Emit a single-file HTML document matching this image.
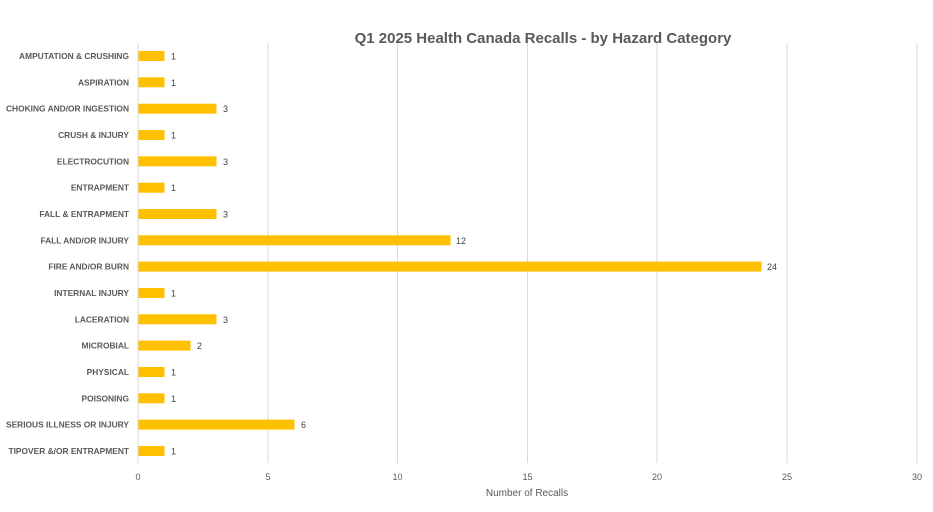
<!DOCTYPE html>
<html><head><style>body{margin:0;background:#fff}svg{display:block}</style></head><body>
<svg width="933" height="512" xmlns="http://www.w3.org/2000/svg" font-family="Liberation Sans, sans-serif">
<rect width="933" height="512" fill="#fff"/>
<text x="543" y="43" text-anchor="middle" font-size="15" font-weight="bold" fill="#595959">Q1 2025 Health Canada Recalls - by Hazard Category</text>
<g stroke="#d9d9d9" stroke-width="1">
<line x1="138" y1="43" x2="138" y2="463"/>
<line x1="268" y1="43" x2="268" y2="463"/>
<line x1="397.5" y1="43" x2="397.5" y2="463"/>
<line x1="527.5" y1="43" x2="527.5" y2="463"/>
<line x1="657" y1="43" x2="657" y2="463"/>
<line x1="787" y1="43" x2="787" y2="463"/>
<line x1="917" y1="43" x2="917" y2="463"/>
</g>
<g font-size="9" fill="#595959" text-anchor="middle">
<text x="138" y="480">0</text><text x="268" y="480">5</text><text x="397.5" y="480">10</text><text x="527.5" y="480">15</text><text x="657" y="480">20</text><text x="787" y="480">25</text><text x="917" y="480">30</text>
<text x="527" y="496" font-size="10">Number of Recalls</text>
</g>
<g fill="#ffc000">
<rect x="138.5" y="51" width="26" height="10"/>
<rect x="138.5" y="77.3" width="26" height="10"/>
<rect x="138.5" y="103.7" width="78" height="10"/>
<rect x="138.5" y="130" width="26" height="10"/>
<rect x="138.5" y="156.3" width="78" height="10"/>
<rect x="138.5" y="182.7" width="26" height="10"/>
<rect x="138.5" y="209" width="78" height="10"/>
<rect x="138.5" y="235.3" width="312" height="10"/>
<rect x="138.5" y="261.6" width="623" height="10"/>
<rect x="138.5" y="288" width="26" height="10"/>
<rect x="138.5" y="314.3" width="78" height="10"/>
<rect x="138.5" y="340.6" width="52" height="10"/>
<rect x="138.5" y="367" width="26" height="10"/>
<rect x="138.5" y="393.3" width="26" height="10"/>
<rect x="138.5" y="419.6" width="156" height="10"/>
<rect x="138.5" y="446" width="26" height="10"/>
</g>
<g font-size="8.4" font-weight="bold" fill="#595959" text-anchor="end">
<text x="129" y="59">AMPUTATION &amp; CRUSHING</text>
<text x="129" y="85.3">ASPIRATION</text>
<text x="129" y="111.7">CHOKING AND/OR INGESTION</text>
<text x="129" y="138">CRUSH &amp; INJURY</text>
<text x="129" y="164.3">ELECTROCUTION</text>
<text x="129" y="190.7">ENTRAPMENT</text>
<text x="129" y="217">FALL &amp; ENTRAPMENT</text>
<text x="129" y="243.3">FALL AND/OR INJURY</text>
<text x="129" y="269.6">FIRE AND/OR BURN</text>
<text x="129" y="296">INTERNAL INJURY</text>
<text x="129" y="322.3">LACERATION</text>
<text x="129" y="348.6">MICROBIAL</text>
<text x="129" y="375">PHYSICAL</text>
<text x="129" y="401.3">POISONING</text>
<text x="129" y="427.6">SERIOUS ILLNESS OR INJURY</text>
<text x="129" y="454">TIPOVER &amp;/OR ENTRAPMENT</text>
</g>
<g font-size="9" fill="#404040">
<text x="171" y="59.5">1</text>
<text x="171" y="85.8">1</text>
<text x="223" y="112.2">3</text>
<text x="171" y="138.5">1</text>
<text x="223" y="164.8">3</text>
<text x="171" y="191.2">1</text>
<text x="223" y="217.5">3</text>
<text x="456" y="243.8">12</text>
<text x="767" y="270.1">24</text>
<text x="171" y="296.5">1</text>
<text x="223" y="322.8">3</text>
<text x="197" y="349.1">2</text>
<text x="171" y="375.5">1</text>
<text x="171" y="401.8">1</text>
<text x="301" y="428.1">6</text>
<text x="171" y="454.5">1</text>
</g>
</svg>
</body></html>
